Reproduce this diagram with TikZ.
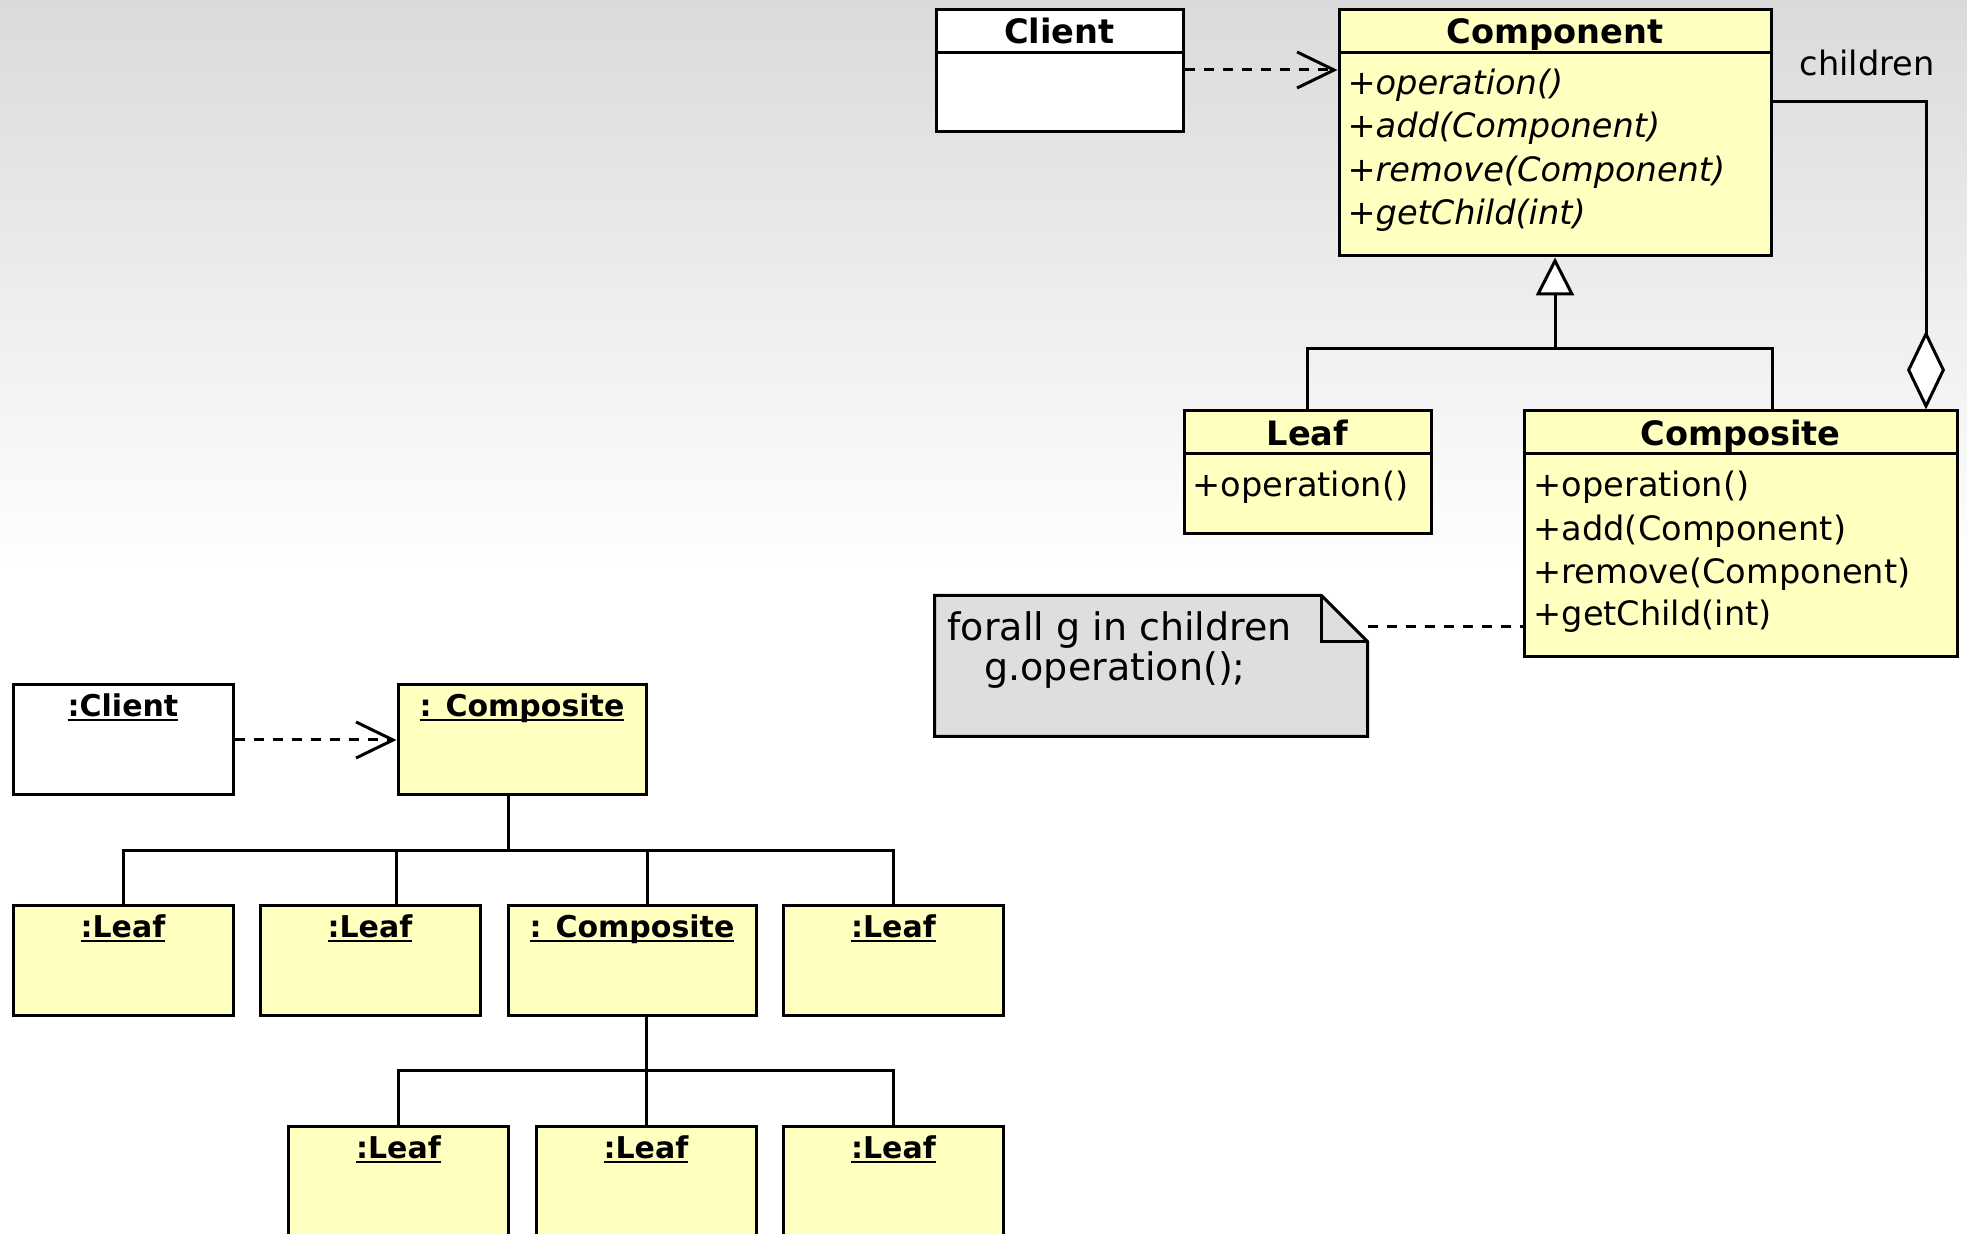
\documentclass[tikz,border=0pt]{standalone}
\usepackage{fontspec}
\setmainfont{DejaVu Sans}
\usetikzlibrary{arrows.meta}
\definecolor{clsyellow}{HTML}{FFFFC0}
\definecolor{notegray}{HTML}{DEDEDE}
\definecolor{bgtop}{HTML}{DADADA}
\newcommand\myul[1]{\setbox0=\hbox{#1}\makebox[0pt][l]{\raisebox{-2.4pt}{\rule{\wd0}{1.1pt}}}\box0}
\begin{document}
\begin{tikzpicture}[x=0.5pt,y=-0.5pt,line width=1.5pt,
  cls/.style={draw=black,fill=clsyellow,inner sep=0pt},
  inst/.style={draw=black,fill=clsyellow,inner sep=0pt,minimum width=110pt,minimum height=55pt},
  hdr/.style={font=\fontsize{16.8}{20}\selectfont\bfseries,inner sep=0pt,text height=12.2pt,text depth=0pt},
  op/.style={font=\fontsize{16.8}{20}\selectfont,anchor=west,inner sep=0pt,text height=12.5pt,text depth=3.5pt},
  iop/.style={op,font=\fontsize{16.8}{20}\selectfont\itshape},
  ilbl/.style={font=\fontsize{15}{18}\selectfont\bfseries,inner sep=0pt,text height=11pt,text depth=0pt},
  notetxt/.style={font=\fontsize{19}{22}\selectfont,anchor=west,inner sep=0pt,text height=14pt,text depth=4pt},
  dep/.style={dash pattern=on 5pt off 4.5pt,-{Straight Barb[length=18.5pt,width=18pt]}},
  dashlink/.style={dash pattern=on 5pt off 4.5pt}]
\useasboundingbox (0,0) rectangle (1967,1234);
\clip (0,0) rectangle (1967,1234);
\fill[white] (0,0) rectangle (1967,1234);
\shade[top color=bgtop,bottom color=white] (0,0) rectangle (1967,575);

% ---------- class diagram ----------
\node[cls,fill=white,minimum width=123.5pt,minimum height=61pt] (client) at (1059.5,71) {};
\draw (client.west |- 0,53) -- (client.east |- 0,53);
\node[hdr] (clientT) at (1059.5,31) {Client};

\node[cls,minimum width=216pt,minimum height=123pt] (component) at (1555,133) {};
\draw (component.west |- 0,53) -- (component.east |- 0,53);
\node[hdr] (componentT) at (1555,31) {Component};
\node[iop] (c1) at (1346,86) {+operation()};
\node[iop] (c2) at (1346,128.5) {+add(Component)};
\node[iop] (c3) at (1346,172.5) {+remove(Component)};
\node[iop] (c4) at (1346,215.5) {+getChild(int)};

\node[cls,minimum width=123.5pt,minimum height=61.5pt] (leaf) at (1307.5,472.5) {};
\draw (leaf.west |- 0,454) -- (leaf.east |- 0,454);
\node[hdr] (leafT) at (1307.5,433) {Leaf};
\node[op] (l1) at (1191,487.5) {+operation()};

\node[cls,minimum width=216.5pt,minimum height=123pt] (composite) at (1740.5,534) {};
\draw (composite.west |- 0,454) -- (composite.east |- 0,454);
\node[hdr] (compositeT) at (1740.5,433) {Composite};
\node[op] (k1) at (1532,487.5) {+operation()};
\node[op] (k2) at (1532,531.5) {+add(Component)};
\node[op] (k3) at (1532,574.5) {+remove(Component)};
\node[op] (k4) at (1532,616.5) {+getChild(int)};

% dependency
\draw[dep] (client.east |- 0,70) -- (component.west |- 0,70);

% generalization
\coordinate (gj) at (1555,349);
\draw[-{Triangle[fill=white,length=19pt,width=19pt]}] (leaf.north) |- (gj) -- (component.south);
\draw (composite.north -| component.east) |- (gj);

% aggregation
\coordinate (aggc) at (1926,102);
\draw[{Diamond[fill=white,length=39.5pt,width=19pt]}-] (composite.north -| aggc) -- (aggc) -- (component.east |- aggc);
\node[font=\fontsize{16.8}{20}\selectfont,inner sep=0pt] (children) at (1867,63) {children};

% note
\node[minimum width=215pt,minimum height=69pt,inner sep=0pt] (note) at (1151,666) {};
\draw[fill=notegray] (note.south west) -- (note.north west) -- ([xshift=-23pt]note.north east)
  -- ([yshift=-23pt]note.north east) -- (note.south east) -- cycle;
\draw ([xshift=-23pt]note.north east) |- ([yshift=-23pt]note.north east);
\node[notetxt] (n1) at (946,631) {forall g in children};
\node[notetxt] (n2) at (983,671) {g.operation();};
\draw[dashlink] (note.east |- 0,627) -- (composite.west |- 0,627);

% ---------- object diagram ----------
\node[inst,fill=white] (iclient) at (123,740) {};
\node[inst,minimum width=124pt] (icomp) at (522,740) {};
\node[inst] (leaf1) at (123,961) {};
\node[inst] (leaf2) at (370,961) {};
\node[inst,minimum width=124pt] (comp2) at (632,961) {};
\node[inst] (leaf3) at (893.5,961) {};
\node[inst] (leaf4) at (398.5,1182) {};
\node[inst] (leaf5) at (646,1182) {};
\node[inst] (leaf6) at (893.5,1182) {};

\node[ilbl] (iclientL) at ([yshift=-11pt]iclient.north) {\myul{:Client}};
\node[ilbl] (icompL) at ([yshift=-11pt]icomp.north) {\myul{: Composite}};
\node[ilbl] (leaf1L) at ([yshift=-11pt]leaf1.north) {\myul{:Leaf}};
\node[ilbl] (leaf2L) at ([yshift=-11pt]leaf2.north) {\myul{:Leaf}};
\node[ilbl] (comp2L) at ([yshift=-11pt]comp2.north) {\myul{: Composite}};
\node[ilbl] (leaf3L) at ([yshift=-11pt]leaf3.north) {\myul{:Leaf}};
\node[ilbl] (leaf4L) at ([yshift=-11pt]leaf4.north) {\myul{:Leaf}};
\node[ilbl] (leaf5L) at ([yshift=-11pt]leaf5.north) {\myul{:Leaf}};
\node[ilbl] (leaf6L) at ([yshift=-11pt]leaf6.north) {\myul{:Leaf}};

\draw[dep] (iclient.east) -- (icomp.west);

\coordinate (bus1) at (508,851);
\draw (icomp.south -| bus1) -- (bus1);
\draw (leaf1.north) |- (bus1) -| (leaf3.north);
\draw (leaf2.north -| icomp.west) -- (icomp.west |- bus1);
\draw (comp2.north -| icomp.east) -- (icomp.east |- bus1);

\coordinate (bus2) at (646,1071);
\draw (comp2.south -| leaf5.north) -- (leaf5.north);
\draw (leaf4.north) |- (bus2) -| (leaf6.north);
\end{tikzpicture}
\end{document}
